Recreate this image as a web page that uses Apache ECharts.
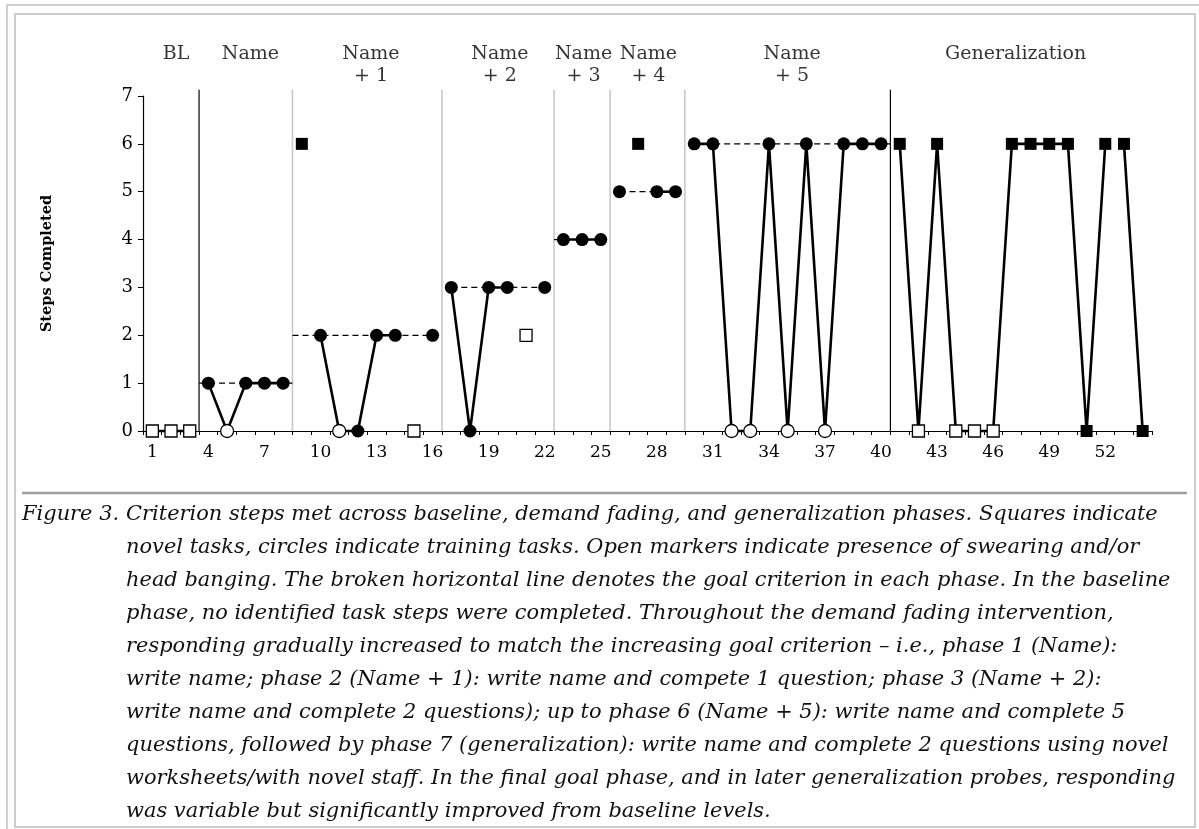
<!DOCTYPE html>
<html><head><meta charset="utf-8">
<script src="https://cdn.jsdelivr.net/npm/echarts@6/dist/echarts.min.js"></script>
<style>
html,body{margin:0;padding:0;background:#fff;}
#chart{position:absolute;left:0;top:0;width:1199px;height:829px;}
#caption{position:absolute;left:22px;top:497px;font-family:'DejaVu Serif';font-style:italic;font-size:20px;line-height:33px;color:#111;white-space:nowrap;}
#caption .fig{display:inline-block;}
</style></head>
<body>
<div id="chart"></div>
<div id="caption"></div>
<script>
// ---- data ----
const sessions = [1,2,3,4,5,6,7,8,9,10,11,12,13,14,15,16,17,18,19,20,21,22,23,24,25,26,27,28,29,30,31,32,33,34,35,36,37,38,39,40,41,42,43,44,45,46,47,48,49,50,51,52,53,54];
const steps = [0,0,0, 1,0,1,1,1, 6,2,0,0,2,2,0,2, 3,0,3,3,2,3, 4,4,4, 5,6,5,5, 6,6,0,0,6,0,6,0,6,6,6, 6,0,6,0,0,0,6,6,6,6,0,6,6,0];
// 'N' = novel task (square), 'T' = training task (circle)
const taskType = ['N','N','N', 'T','T','T','T','T', 'N','T','T','T','T','T','N','T', 'T','T','T','T','N','T', 'T','T','T', 'T','N','T','T', 'T','T','T','T','T','T','T','T','T','T','T', 'N','N','N','N','N','N','N','N','N','N','N','N','N','N'];
// 1 = open marker (swearing / head banging present)
const openMarker = [1,1,1, 0,1,0,0,0, 0,0,1,0,0,0,1,0, 0,0,0,0,1,0, 0,0,0, 0,0,0,0, 0,0,1,1,0,1,0,1,0,0,0, 0,1,0,1,1,1,0,0,0,0,0,0,0,0];
// sessions joined by a solid line [first, last]
const connectedRuns = [[1,3],[4,8],[10,14],[17,20],[23,25],[28,29],[30,40],[41,52],[53,54]];
const phaseNames = ['BL','Name','Name\n+ 1','Name\n+ 2','Name\n+ 3','Name\n+ 4','Name\n+ 5','Generalization'];
const phaseLabelAt = [2.27,6.25,12.7,19.6,24.08,27.55,35.24,47.2];
const phaseChanges = [3.5,8.5,16.5,22.5,25.5,29.5,40.5];
const majorChange = [1,0,0,0,0,0,1];
const criterionLevel = [1,2,3,4,5,6];
const criterionFrom = [3.5,8.5,17,22.5,26,30];
const criterionTo = [8.5,16,22,25,29,40.5];
const xTickLabels = sessions.map(String);
const captionLines = [
 'Criterion steps met across baseline, demand fading, and generalization phases. Squares indicate',
 'novel tasks, circles indicate training tasks. Open markers indicate presence of swearing and/or',
 'head banging. The broken horizontal line denotes the goal criterion in each phase. In the baseline',
 'phase, no identified task steps were completed. Throughout the demand fading intervention,',
 'responding gradually increased to match the increasing goal criterion \u2013 i.e., phase 1 (Name):',
 'write name; phase 2 (Name + 1): write name and compete 1 question; phase 3 (Name + 2):',
 'write name and complete 2 questions); up to phase 6 (Name + 5): write name and complete 5',
 'questions, followed by phase 7 (generalization): write name and complete 2 questions using novel',
 'worksheets/with novel staff. In the final goal phase, and in later generalization probes, responding',
 'was variable but significantly improved from baseline levels.'
];

// ---- caption ----
const FONT = 'DejaVu Serif';
(function(){
  const cv = document.createElement('canvas').getContext('2d');
  cv.font = 'italic 20px "' + FONT + '"';
  const w = cv.measureText(captionLines[8]).width + cv.measureText('Figure 3. ').width;
  const fs = 20 * 1153 / w;
  cv.font = 'italic ' + fs + 'px "' + FONT + '"';
  const indent = Math.round(cv.measureText('Figure 3. ').width);
  const cap = document.getElementById('caption');
  cap.style.fontSize = fs.toFixed(2) + 'px';
  let html = '<div><span class="fig" style="width:' + indent + 'px">Figure 3.</span>' + captionLines[0] + '</div>';
  for (let i = 1; i < captionLines.length; i++) html += '<div style="padding-left:' + indent + 'px">' + captionLines[i] + '</div>';
  cap.innerHTML = html;
})();

// ---- chart ----
const chart = echarts.init(document.getElementById('chart'), null, {renderer:'canvas'});
const series = [];
phaseChanges.forEach((x,i)=>series.push({
  type:'line', xAxisIndex:0, yAxisIndex:0, data:[[x,0],[x,7.13]], symbol:'none', clip:false, silent:true,
  lineStyle:{color: majorChange[i] ? '#000' : '#c8c8c8', width: majorChange[i] ? 1.2 : 1.6}, z:1
}));
criterionLevel.forEach((lv,i)=>series.push({
  type:'line', data:[[criterionFrom[i],lv],[criterionTo[i],lv]], symbol:'none', silent:true,
  lineStyle:{color:'#000', width:1.3, type:[6,4]}, z:2
}));
connectedRuns.forEach(([a,b])=>series.push({
  type:'line', data: sessions.filter(s=>s>=a && s<=b).map(s=>[s, steps[s-1]]),
  symbol:'none', clip:false, lineStyle:{color:'#000', width:2.6}, z:3
}));
const markerGroups = [
  {t:'T', o:0, symbol:'circle', size:13},
  {t:'T', o:1, symbol:'circle', size:13},
  {t:'N', o:0, symbol:'rect', size:12},
  {t:'N', o:1, symbol:'rect', size:12}
];
markerGroups.forEach(g=>series.push({
  type:'scatter', symbol:g.symbol, symbolSize:g.size, clip:false,
  data: sessions.filter(s=>taskType[s-1]===g.t && openMarker[s-1]===g.o).map(s=>[s, steps[s-1]]),
  itemStyle:{color: g.o ? '#fff' : '#000', borderColor:'#000', borderWidth: g.o ? 1.3 : 0, opacity:1},
  z:4
}));
series.push({
  type:'scatter', symbolSize:0, clip:false, silent:true,
  data: phaseLabelAt.map((x,i)=>({value:[x,8.1], name:phaseNames[i]})),
  label:{show:true, position:'bottom', distance:0, formatter:p=>p.name, fontFamily:FONT, fontSize:19, lineHeight:22, color:'#000', align:'center'},
  z:5
});

chart.setOption({
  animation:false,
  backgroundColor:'#fff',
  grid:{left:143, top:96, width:1009, height:335, containLabel:false},
  xAxis:[
    {type:'value', min:0.5, max:54.5, show:false},
    {type:'category', data:xTickLabels, boundaryGap:true, position:'bottom',
     axisLine:{show:true, lineStyle:{color:'#000', width:1.2}},
     axisTick:{show:true, interval:0, length:4, lineStyle:{color:'#000', width:1}},
     axisLabel:{interval:2, margin:13, fontSize:17, fontFamily:FONT, color:'#000'},
     splitLine:{show:false}}
  ],
  yAxis:{type:'value', min:0, max:7, interval:1,
    name:'Steps Completed', nameLocation:'middle', nameGap:88,
    nameTextStyle:{fontFamily:FONT, fontWeight:'bold', fontSize:14.5, color:'#000'},
    axisLine:{show:true, lineStyle:{color:'#000', width:1.2}},
    axisTick:{show:true, length:5, lineStyle:{color:'#000', width:1}},
    axisLabel:{margin:10, fontSize:18, fontFamily:FONT, color:'#000'},
    splitLine:{show:false}},
  series: series,
  graphic:[
    {type:'rect', shape:{x:7, y:5, width:1200, height:830}, style:{fill:'none', stroke:'#d0d0d0', lineWidth:2}, silent:true},
    {type:'rect', shape:{x:15, y:14, width:1180, height:813}, style:{fill:'none', stroke:'#cccccc', lineWidth:2}, silent:true},
    {type:'line', shape:{x1:22, y1:493, x2:1187, y2:493}, style:{stroke:'#a0a0a0', lineWidth:2.5}, silent:true}
  ]
});
</script>
</body></html>
